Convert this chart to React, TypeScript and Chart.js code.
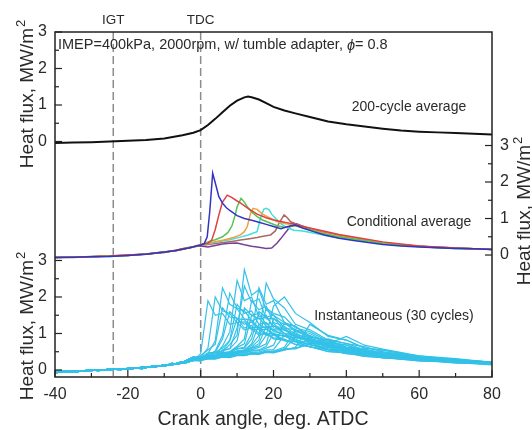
import { useEffect, useRef } from "react";
import { Chart, registerables } from "chart.js";

Chart.register(...registerables);

const FONT = '"Liberation Sans", Arial, sans-serif';

// x axis
const X_MIN = -40;
const X_MAX = 80;
const X_TICKS = [-40, -20, 0, 20, 40, 60, 80];
const IGT = -24;
const TDC = 0;

// panel y ranges (each panel shares the full chart height)
const Y_TOP_RANGE = [-6.452, 3];
const Y_MID_RANGE = [-3.342, 6.11];
const Y_BOT_RANGE = [-0.192, 9.26];
const Y_TICKS = [0, 1, 2, 3];

// 200-cycle average
const AVG_X = [-40, -35, -30, -25, -20, -15, -10, -5, -2, 0, 2, 4, 6, 8, 10, 12, 13, 14, 16, 18, 20, 23, 26, 30, 35, 40, 45, 50, 55, 60, 65, 70, 75, 80];
const AVG_Y = [-0.04, -0.03, -0.02, 0.0, 0.02, 0.04, 0.08, 0.17, 0.24, 0.31, 0.45, 0.62, 0.8, 0.98, 1.12, 1.21, 1.23, 1.21, 1.15, 1.05, 0.95, 0.85, 0.77, 0.67, 0.55, 0.47, 0.41, 0.35, 0.3, 0.27, 0.25, 0.23, 0.21, 0.19];

// conditional averages [crank angle, heat flux]
const COND_BLUE: [number, number][] = [[-40,-0.07],[-35,-0.06],[-30,-0.05],[-25,-0.04],[-20,-0.01],[-15,0.02],[-10,0.08],[-7,0.12],[-5,0.16],[-3,0.2],[-1,0.25],[0,0.27],[1,0.32],[1.8,0.5],[2.5,1.2],[3.3,2.24],[4,1.98],[5,1.6],[6,1.42],[7,1.3],[8,1.22],[10,1.08],[12,1.0],[14,0.95],[16,0.9],[18,0.84],[20,0.78],[22,0.72],[24,0.78],[26,0.82],[28,0.74],[31,0.64],[34,0.55],[38,0.46],[42,0.4],[46,0.34],[50,0.29],[55,0.25],[60,0.22],[65,0.2],[70,0.18],[75,0.17],[80,0.15]];
const COND_RED: [number, number][] = [[-40,-0.06],[-35,-0.07],[-30,-0.04],[-25,-0.03],[-20,0.0],[-15,0.03],[-10,0.07],[-7,0.13],[-5,0.17],[-3,0.19],[-1,0.26],[0,0.28],[2,0.32],[3,0.4],[4,0.7],[5,1.1],[6,1.45],[7.3,1.64],[8.5,1.58],[10,1.48],[11,1.42],[13,1.28],[15.5,1.12],[18,1.02],[20,0.96],[22,0.92],[25,0.86],[29,0.76],[34,0.65],[38,0.56],[44,0.46],[50,0.36],[55,0.3],[60,0.25],[65,0.22],[70,0.19],[75,0.17],[80,0.16]];
const COND_GREEN: [number, number][] = [[-40,-0.08],[-35,-0.05],[-30,-0.05],[-25,-0.02],[-20,-0.01],[-15,0.03],[-10,0.09],[-7,0.11],[-5,0.17],[-3,0.21],[-1,0.24],[0,0.27],[2,0.36],[4,0.42],[6,0.5],[7.5,0.62],[8.6,0.8],[9.5,1.1],[10,1.32],[11.1,1.55],[12,1.45],[12.8,1.32],[14,1.18],[15.5,1.05],[17,0.96],[19.2,0.87],[21,0.8],[23,0.76],[26,0.8],[29,0.72],[33,0.6],[38,0.5],[44,0.41],[50,0.32],[55,0.27],[60,0.23],[65,0.2],[70,0.18],[75,0.17],[80,0.15]];
const COND_ORANGE: [number, number][] = [[-40,-0.07],[-35,-0.05],[-30,-0.06],[-25,-0.03],[-20,0.0],[-15,0.02],[-10,0.08],[-7,0.12],[-5,0.15],[-3,0.2],[-1,0.25],[0,0.28],[3,0.34],[6.3,0.41],[9,0.48],[10.9,0.55],[12,0.64],[12.8,0.78],[13.7,1.14],[14.4,1.28],[15.5,1.25],[17,1.12],[18.3,1.05],[21,0.92],[23,0.86],[26,0.82],[29,0.74],[33,0.62],[38,0.52],[44,0.43],[50,0.34],[55,0.28],[60,0.24],[65,0.21],[70,0.19],[75,0.17],[80,0.16]];
const COND_CYAN: [number, number][] = [[-40,-0.07],[-35,-0.06],[-30,-0.04],[-25,-0.04],[-20,-0.01],[-15,0.03],[-10,0.07],[-7,0.12],[-5,0.16],[-3,0.2],[-1,0.24],[0,0.27],[4,0.35],[8,0.42],[10.9,0.49],[13,0.55],[15.5,0.64],[16.4,1.0],[17.3,1.25],[18,1.28],[18.8,1.24],[19.5,1.12],[20.6,1.0],[22,0.86],[23.5,0.76],[25.6,0.68],[28,0.66],[32,0.58],[36,0.5],[42,0.42],[48,0.34],[55,0.27],[60,0.23],[65,0.2],[70,0.18],[75,0.17],[80,0.15]];
const COND_BROWN: [number, number][] = [[-40,-0.06],[-35,-0.06],[-30,-0.05],[-25,-0.03],[-20,0.0],[-15,0.02],[-10,0.08],[-7,0.12],[-5,0.17],[-3,0.2],[-1,0.25],[0,0.26],[3,0.3],[6.3,0.34],[9,0.38],[10.9,0.41],[13,0.44],[15.5,0.48],[17.5,0.52],[19.2,0.55],[20.5,0.66],[21.5,0.87],[22.9,1.1],[23.8,1.02],[24.7,0.91],[26.5,0.84],[29,0.76],[33,0.64],[38,0.53],[44,0.43],[50,0.34],[55,0.28],[60,0.24],[65,0.21],[70,0.19],[75,0.17],[80,0.16]];
const COND_PURPLE: [number, number][] = [[-40,-0.07],[-35,-0.05],[-30,-0.05],[-25,-0.03],[-20,-0.01],[-15,0.03],[-10,0.08],[-7,0.12],[-5,0.16],[-3,0.21],[-1,0.24],[0,0.25],[2,0.22],[4,0.26],[6,0.3],[8,0.32],[10,0.33],[12,0.28],[14,0.24],[16,0.21],[18,0.18],[19.5,0.19],[21,0.33],[22,0.45],[23.8,0.68],[25.2,0.87],[26.5,0.85],[29,0.74],[33,0.62],[38,0.52],[44,0.42],[50,0.33],[55,0.28],[60,0.24],[65,0.21],[70,0.19],[75,0.17],[80,0.15]];

const COND_SERIES = [
  { data: COND_BLUE, color: "#3434c4" },
  { data: COND_RED, color: "#e04040" },
  { data: COND_GREEN, color: "#55c455" },
  { data: COND_ORANGE, color: "#f0a040" },
  { data: COND_CYAN, color: "#45dede" },
  { data: COND_BROWN, color: "#a86a62" },
  { data: COND_PURPLE, color: "#783e98" },
];

// instantaneous cycles: compression part (3 variants) + combustion part per cycle
const PRE_X = [-40, -37, -34, -31, -28, -25, -22, -19, -16, -13, -10, -8, -6, -4, -2];
const PRE_A = [-0.05, -0.02, -0.04, -0.01, 0.0, 0.02, 0.01, 0.05, 0.06, 0.1, 0.12, 0.15, 0.18, 0.2, 0.26];
const PRE_B = [-0.02, -0.05, -0.02, -0.03, 0.01, 0.0, 0.04, 0.03, 0.08, 0.07, 0.14, 0.13, 0.2, 0.24, 0.3];
const PRE_C = [-0.08, -0.04, -0.05, 0.0, -0.02, 0.03, 0.02, 0.06, 0.04, 0.11, 0.1, 0.18, 0.16, 0.26, 0.35];
const PRE_SETS = [PRE_A, PRE_B, PRE_C];

const POST_X = [0, 2, 4, 6, 8, 10, 12, 14, 16, 18, 20, 23, 26, 30, 35, 40, 45, 50, 60, 70, 80];
const CYCLES: number[][] = [
  [0.45, 1.9, 1.5, 1.55, 1.25, 1.3, 1.1, 1.15, 0.95, 1.0, 0.85, 0.82, 0.7, 0.64, 0.5, 0.47, 0.37, 0.34, 0.25, 0.21, 0.14],
  [0.35, 0.6, 2.0, 1.62, 1.55, 1.3, 1.32, 1.1, 1.12, 0.95, 0.96, 0.8, 0.77, 0.63, 0.56, 0.45, 0.41, 0.33, 0.28, 0.19, 0.17],
  [0.3, 0.45, 0.8, 2.25, 1.8, 1.68, 1.4, 1.36, 1.15, 1.18, 0.98, 0.93, 0.78, 0.7, 0.56, 0.52, 0.41, 0.37, 0.27, 0.23, 0.16],
  [0.4, 0.55, 0.7, 1.7, 1.45, 1.42, 1.15, 1.22, 1.0, 1.02, 0.88, 0.85, 0.7, 0.64, 0.51, 0.47, 0.37, 0.35, 0.25, 0.22, 0.15],
  [0.3, 0.42, 0.52, 0.95, 2.1, 1.7, 1.62, 1.35, 1.42, 1.2, 1.1, 0.95, 0.85, 0.68, 0.62, 0.49, 0.45, 0.36, 0.3, 0.22, 0.19],
  [0.35, 0.47, 0.48, 0.85, 1.6, 1.4, 1.38, 1.15, 1.18, 0.98, 1.0, 0.82, 0.78, 0.63, 0.57, 0.45, 0.42, 0.33, 0.28, 0.2, 0.18],
  [0.25, 0.38, 0.42, 0.65, 1.05, 2.45, 1.9, 2.0, 1.45, 1.5, 1.15, 1.12, 0.9, 0.8, 0.62, 0.58, 0.44, 0.42, 0.3, 0.25, 0.18],
  [0.3, 0.42, 0.48, 0.6, 0.82, 1.8, 1.55, 1.62, 1.25, 1.3, 1.05, 1.0, 0.82, 0.75, 0.58, 0.52, 0.41, 0.38, 0.27, 0.23, 0.16],
  [0.35, 0.36, 0.48, 0.52, 0.8, 1.4, 1.25, 1.32, 1.1, 1.12, 0.96, 0.94, 0.78, 0.7, 0.55, 0.5, 0.4, 0.36, 0.26, 0.22, 0.15],
  [0.28, 0.37, 0.38, 0.55, 0.58, 1.15, 2.3, 1.85, 1.95, 1.4, 1.42, 1.08, 1.02, 0.8, 0.7, 0.55, 0.5, 0.39, 0.32, 0.23, 0.2],
  [0.3, 0.4, 0.4, 0.53, 0.58, 0.8, 1.7, 1.5, 1.55, 1.25, 1.28, 1.0, 0.95, 0.74, 0.66, 0.51, 0.47, 0.37, 0.3, 0.22, 0.19],
  [0.3, 0.36, 0.47, 0.48, 0.7, 0.95, 2.75, 2.05, 2.2, 1.65, 1.5, 1.3, 1.05, 0.95, 0.7, 0.63, 0.48, 0.44, 0.31, 0.26, 0.19],
  [0.25, 0.32, 0.36, 0.48, 0.5, 0.65, 0.85, 1.9, 1.65, 1.75, 1.3, 1.2, 0.98, 0.88, 0.68, 0.6, 0.47, 0.43, 0.3, 0.25, 0.18],
  [0.3, 0.36, 0.38, 0.47, 0.5, 0.62, 0.72, 1.5, 1.4, 1.45, 1.2, 1.15, 0.92, 0.83, 0.64, 0.57, 0.44, 0.41, 0.29, 0.24, 0.17],
  [0.28, 0.33, 0.37, 0.44, 0.47, 0.58, 0.62, 1.0, 2.25, 1.8, 1.9, 1.3, 1.2, 0.92, 0.8, 0.62, 0.55, 0.43, 0.35, 0.25, 0.21],
  [0.3, 0.35, 0.39, 0.46, 0.48, 0.58, 0.6, 0.85, 1.6, 1.45, 1.5, 1.15, 1.1, 0.85, 0.75, 0.58, 0.52, 0.4, 0.33, 0.24, 0.2],
  [0.32, 0.37, 0.39, 0.44, 0.45, 0.52, 0.54, 0.72, 1.25, 1.15, 1.22, 1.0, 0.98, 0.77, 0.69, 0.53, 0.48, 0.37, 0.31, 0.22, 0.19],
  [0.27, 0.34, 0.35, 0.42, 0.44, 0.52, 0.55, 0.68, 0.95, 2.38, 1.95, 1.7, 1.25, 1.1, 0.82, 0.73, 0.55, 0.5, 0.35, 0.28, 0.2],
  [0.3, 0.33, 0.37, 0.44, 0.44, 0.52, 0.54, 0.63, 0.82, 1.7, 1.55, 1.45, 1.15, 1.05, 0.78, 0.68, 0.53, 0.48, 0.34, 0.27, 0.19],
  [0.33, 0.36, 0.37, 0.42, 0.43, 0.5, 0.51, 0.6, 0.72, 1.2, 1.1, 1.1, 0.9, 0.86, 0.65, 0.6, 0.46, 0.42, 0.3, 0.25, 0.17],
  [0.28, 0.33, 0.34, 0.42, 0.42, 0.49, 0.51, 0.6, 0.66, 0.95, 1.75, 2.0, 1.55, 1.3, 0.92, 0.82, 0.6, 0.55, 0.37, 0.29, 0.21],
  [0.3, 0.35, 0.36, 0.42, 0.42, 0.48, 0.49, 0.56, 0.62, 0.72, 1.4, 1.25, 1.2, 0.9, 0.82, 0.6, 0.56, 0.43, 0.35, 0.25, 0.21],
  [0.35, 0.38, 0.38, 0.43, 0.42, 0.47, 0.47, 0.54, 0.55, 0.65, 1.0, 0.92, 0.95, 0.76, 0.7, 0.53, 0.5, 0.38, 0.32, 0.23, 0.19],
  [0.3, 0.34, 0.35, 0.4, 0.4, 0.46, 0.46, 0.52, 0.53, 0.6, 0.68, 1.3, 1.1, 1.0, 0.74, 0.68, 0.5, 0.47, 0.33, 0.27, 0.19],
  [0.32, 0.35, 0.35, 0.4, 0.39, 0.44, 0.43, 0.49, 0.49, 0.55, 0.56, 0.95, 0.88, 0.86, 0.65, 0.6, 0.46, 0.43, 0.3, 0.25, 0.17],
  [0.28, 0.31, 0.32, 0.37, 0.36, 0.42, 0.41, 0.47, 0.46, 0.52, 0.52, 0.62, 1.1, 0.9, 0.82, 0.62, 0.57, 0.44, 0.36, 0.26, 0.22],
  [0.3, 0.33, 0.33, 0.38, 0.37, 0.41, 0.4, 0.45, 0.45, 0.5, 0.49, 0.57, 0.9, 0.8, 0.75, 0.57, 0.52, 0.41, 0.34, 0.24, 0.2],
  [0.27, 0.3, 0.3, 0.35, 0.34, 0.39, 0.39, 0.44, 0.43, 0.48, 0.47, 0.54, 0.62, 1.25, 0.95, 0.82, 0.6, 0.54, 0.37, 0.29, 0.21],
  [0.29, 0.32, 0.32, 0.37, 0.36, 0.41, 0.4, 0.45, 0.44, 0.5, 0.49, 0.57, 0.58, 0.72, 0.72, 0.92, 0.68, 0.57, 0.39, 0.31, 0.21],
  [0.31, 0.34, 0.34, 0.38, 0.37, 0.42, 0.41, 0.46, 0.45, 0.5, 0.5, 0.58, 0.6, 0.72, 0.85, 0.72, 0.64, 0.5, 0.39, 0.27, 0.22],
];

const TEXT_COLOR = "#2a2a2a";
const LINE_COLOR = "#222222";

function zip(xs: number[], ys: number[]) {
  const n = Math.min(xs.length, ys.length);
  const out: { x: number; y: number }[] = [];
  for (let i = 0; i < n; i++) out.push({ x: xs[i], y: ys[i] });
  return out;
}

function drawTitle(ctx: CanvasRenderingContext2D, cx: number, cy: number) {
  ctx.save();
  ctx.translate(cx, cy);
  ctx.rotate(-Math.PI / 2);
  ctx.fillStyle = TEXT_COLOR;
  ctx.textBaseline = "alphabetic";
  ctx.textAlign = "left";
  const main = "Heat flux, MW/m";
  ctx.font = `19px ${FONT}`;
  const w1 = ctx.measureText(main).width;
  ctx.font = `13px ${FONT}`;
  const w2 = ctx.measureText("2").width;
  const start = -(w1 + w2 + 1) / 2;
  ctx.font = `19px ${FONT}`;
  ctx.fillText(main, start, 0);
  ctx.font = `13px ${FONT}`;
  ctx.fillText("2", start + w1 + 1, -8);
  ctx.restore();
}

const customPlugin = {
  id: "customAxes",
  beforeDatasetsDraw(chart: any) {
    const { ctx, chartArea } = chart;
    const xs = chart.scales.x;
    ctx.save();
    ctx.strokeStyle = "#8c8c8c";
    ctx.lineWidth = 1.5;
    ctx.setLineDash([8, 4]);
    for (const v of [IGT, TDC]) {
      const px = xs.getPixelForValue(v);
      ctx.beginPath();
      ctx.moveTo(px, chartArea.top);
      ctx.lineTo(px, chartArea.bottom);
      ctx.stroke();
    }
    ctx.restore();
  },
  afterDraw(chart: any) {
    const { ctx, chartArea } = chart;
    const { left, right, top, bottom } = chartArea;
    const xs = chart.scales.x;
    ctx.save();
    // frame
    ctx.strokeStyle = LINE_COLOR;
    ctx.lineWidth = 1.5;
    ctx.setLineDash([]);
    ctx.strokeRect(left, top, right - left, bottom - top);

    ctx.lineWidth = 1.2;
    // x ticks
    for (let v = X_MIN; v <= X_MAX; v += 10) {
      const px = xs.getPixelForValue(v);
      const major = v % 20 === 0;
      ctx.beginPath();
      ctx.moveTo(px, bottom);
      ctx.lineTo(px, bottom - (major ? 7 : 4));
      ctx.stroke();
    }
    ctx.fillStyle = TEXT_COLOR;
    ctx.font = `16px ${FONT}`;
    ctx.textAlign = "center";
    ctx.textBaseline = "middle";
    for (const v of X_TICKS) {
      ctx.fillText(String(v), xs.getPixelForValue(v), 395);
    }

    // y ticks
    const panels = [
      { scale: chart.scales.yTop, side: "left" },
      { scale: chart.scales.yBot, side: "left" },
      { scale: chart.scales.yMid, side: "right" },
    ];
    for (const p of panels) {
      for (let v = 0; v <= 3; v += 0.5) {
        const py = p.scale.getPixelForValue(v);
        const len = Number.isInteger(v) ? 7 : 4;
        ctx.beginPath();
        if (p.side === "left") {
          ctx.moveTo(left, py);
          ctx.lineTo(left + len, py);
        } else {
          ctx.moveTo(right, py);
          ctx.lineTo(right - len, py);
        }
        ctx.stroke();
      }
      ctx.font = `16px ${FONT}`;
      ctx.textBaseline = "middle";
      for (const v of Y_TICKS) {
        const py = p.scale.getPixelForValue(v);
        if (p.side === "left") {
          ctx.textAlign = "right";
          ctx.fillText(String(v), left - 8, py);
        } else {
          ctx.textAlign = "left";
          ctx.fillText(String(v), right + 8, py);
        }
      }
    }

    // axis titles
    drawTitle(ctx, 33, 94);
    drawTitle(ctx, 33, 326);
    drawTitle(ctx, 530, 211);

    ctx.fillStyle = TEXT_COLOR;
    ctx.textBaseline = "alphabetic";
    ctx.textAlign = "center";
    ctx.font = `19.5px ${FONT}`;
    ctx.fillText("Crank angle, deg. ATDC", 263, 425);

    // top markers
    ctx.font = `13.5px ${FONT}`;
    ctx.textBaseline = "middle";
    ctx.fillText("IGT", xs.getPixelForValue(IGT), 20);
    ctx.fillText("TDC", xs.getPixelForValue(TDC), 20);

    // annotations
    ctx.font = `14px ${FONT}`;
    ctx.fillText("200-cycle average", 409, 107);
    ctx.fillText("Conditional average", 409, 222);
    ctx.fillText("Instantaneous (30 cycles)", 394, 316);

    ctx.textAlign = "left";
    ctx.font = `14.5px ${FONT}`;
    const s1 = "IMEP=400kPa, 2000rpm, w/ tumble adapter, ";
    let x0 = 58;
    ctx.fillText(s1, x0, 45);
    x0 += ctx.measureText(s1).width;
    ctx.font = `italic 14.5px ${FONT}`;
    ctx.fillText("\u03d5", x0, 46);
    x0 += ctx.measureText("\u03d5").width;
    ctx.font = `14.5px ${FONT}`;
    ctx.fillText("= 0.8", x0, 45);
    ctx.restore();
  },
};

export default function App() {
  const ref = useRef<HTMLCanvasElement>(null);
  useEffect(() => {
    document.body.style.margin = "0";
    const datasets: any[] = [];
    datasets.push({
      data: zip(AVG_X, AVG_Y),
      yAxisID: "yTop",
      borderColor: "#111111",
      borderWidth: 2,
    });
    for (const s of COND_SERIES) {
      datasets.push({
        data: s.data.map(([x, y]) => ({ x, y })),
        yAxisID: "yMid",
        borderColor: s.color,
        borderWidth: 1.5,
      });
    }
    CYCLES.forEach((post, i) => {
      const pre = PRE_SETS[i % PRE_SETS.length];
      datasets.push({
        data: [...zip(PRE_X, pre), ...zip(POST_X, post)],
        yAxisID: "yBot",
        borderColor: "#33c1e8",
        borderWidth: 1.2,
      });
    });
    for (const d of datasets) {
      d.pointRadius = 0;
      d.fill = false;
      d.tension = 0;
    }
    const chart = new Chart(ref.current!, {
      type: "line",
      data: { datasets },
      options: {
        animation: false,
        responsive: false,
        devicePixelRatio: 1,
        layout: { padding: { left: 55, right: 40, top: 32, bottom: 53 } },
        plugins: { legend: { display: false }, tooltip: { enabled: false } },
        events: [],
        scales: {
          x: { type: "linear", display: false, min: X_MIN, max: X_MAX },
          yTop: { type: "linear", display: false, min: Y_TOP_RANGE[0], max: Y_TOP_RANGE[1] },
          yMid: { type: "linear", display: false, min: Y_MID_RANGE[0], max: Y_MID_RANGE[1] },
          yBot: { type: "linear", display: false, min: Y_BOT_RANGE[0], max: Y_BOT_RANGE[1] },
        },
      } as any,
      plugins: [customPlugin],
    });
    return () => chart.destroy();
  }, []);
  return (
    <div style={{ width: 532, height: 430 }}>
      <canvas ref={ref} width={532} height={430} style={{ display: "block" }} />
    </div>
  );
}
